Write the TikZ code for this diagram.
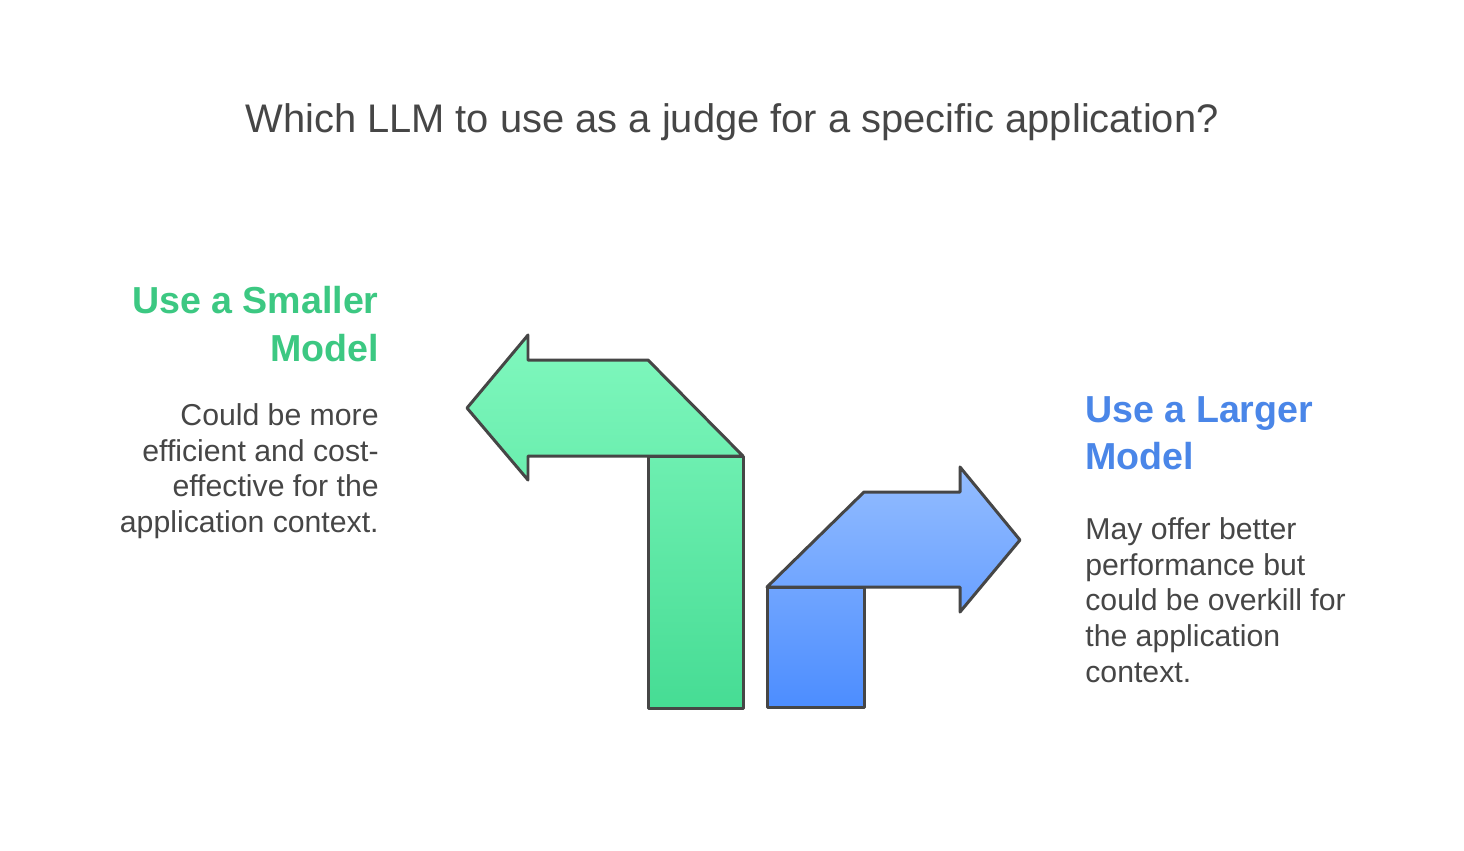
\documentclass[tikz,border=0pt]{standalone}
\usepackage{fontspec}
\setmainfont{Liberation Sans}
\definecolor{greentop}{HTML}{80F8BE}
\definecolor{greenbot}{HTML}{46DC94}
\definecolor{bluetop}{HTML}{94BDFF}
\definecolor{bluebot}{HTML}{4C8DFF}
\definecolor{greenhead}{HTML}{3CC882}
\definecolor{bluehead}{HTML}{4A86E8}
\definecolor{edgegray}{HTML}{464646}
\definecolor{textgray}{HTML}{464646}
\begin{document}
\begin{tikzpicture}[x=0.02cm,y=-0.02cm,
	outline/.style={draw=edgegray, line width=1.7pt, line join=round},
	heading/.style={inner sep=0pt, font=\fontsize{21.4}{27}\selectfont\bfseries},
	bodytext/.style={inner sep=0pt, text=textgray, font=\fontsize{17.2}{20.4}\selectfont}]
%	\draw[help lines] (0,0) grid[step=100] (1464,850);
	\useasboundingbox[fill=white] (0,0) rectangle (1464,850);
	
	\node[text=textgray, font=\fontsize{22.7}{27}\selectfont] (title) at (732,122) {Which LLM to use as a judge for a specific application?};
	
	% left arrow: smaller model
	\shade[top color=greentop, bottom color=greenbot] (467,408) -- (528,335) -- (528,360) -- (648,360) -- (743,456) -- (743,708) -- (648,708) -- (648,456) -- (528,456) -- (528,480) -- cycle;
	\draw[outline] (467,408) -- (528,335) -- (528,360) -- (648,360) -- (743,456) -- (528,456) -- (528,480) -- cycle;
	\draw[outline] (648,456) rectangle (743,708);
	
	% right arrow: larger model
	\shade[top color=bluetop, bottom color=bluebot] (767,587) -- (864,492) -- (960,492) -- (960,467) -- (1020,540) -- (960,612) -- (960,587) -- (864,587) -- (864,707) -- (767,707) -- cycle;
	\draw[outline] (767,587) -- (864,492) -- (960,492) -- (960,467) -- (1020,540) -- (960,612) -- (960,587) -- cycle;
	\draw[outline] (767,587) rectangle (864,707);
	
	\node[heading, text=greenhead, align=right, anchor=north east] (smallhead) at (379,286) {Use a Smaller\\Model};
	\node[bodytext, align=right, anchor=north east] (smalltext) at (379,403) {Could be more\\efficient and cost-\\effective for the\\application context.};
	
	\node[heading, text=bluehead, align=left, anchor=north west] (largehead) at (1085,396) {Use a Larger\\Model};
	\node[bodytext, align=left, anchor=north west] (largetext) at (1085,517) {May offer better\\performance but\\could be overkill for\\the application\\context.};
\end{tikzpicture}
\end{document}
